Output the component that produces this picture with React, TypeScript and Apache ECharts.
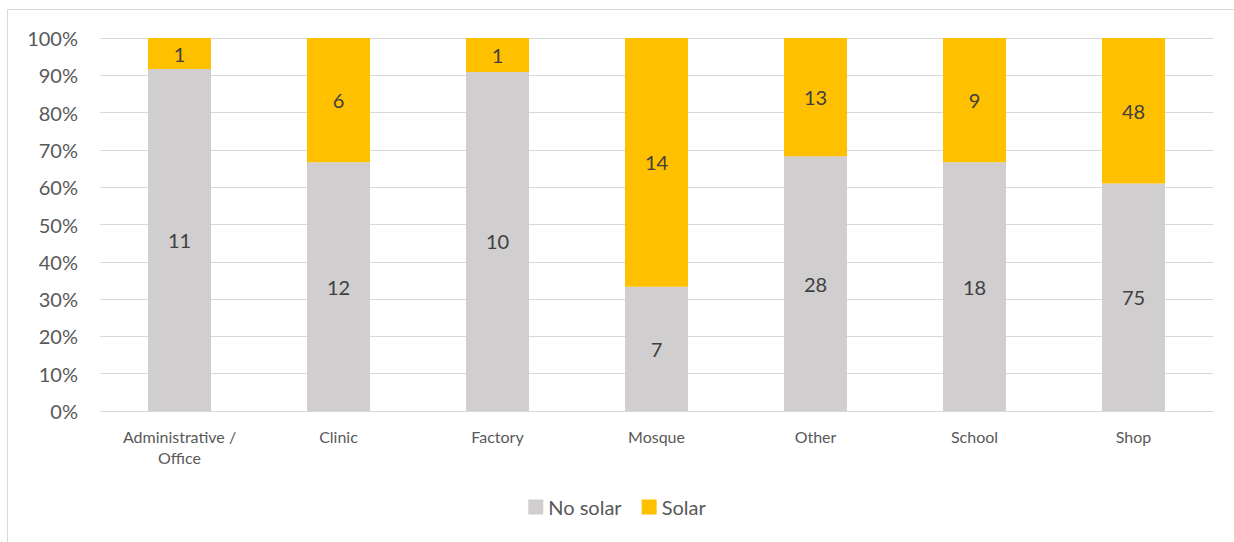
import React, { useEffect, useRef } from "react";
import * as echarts from "echarts";

const categories = ["Administrative /\nOffice", "Clinic", "Factory", "Mosque", "Other", "School", "Shop"];
const noSolar = [11, 12, 10, 7, 28, 18, 75];
const solar = [1, 6, 1, 14, 13, 9, 48];
const yTicks = [0, 10, 20, 30, 40, 50, 60, 70, 80, 90, 100];

const FONT = "Lato, 'Open Sans', sans-serif";

export default function App() {
  const ref = useRef<HTMLDivElement>(null);
  useEffect(() => {
    document.body.style.margin = "0";
    if (!ref.current) return;
    const chart = echarts.init(ref.current, null, { renderer: "svg" });
    const totals = noSolar.map((v, i) => v + solar[i]);
    const pct = (arr: number[]) => arr.map((v, i) => ({ value: (v / totals[i]) * 100, raw: v }));
    const labelCfg = {
      show: true,
      position: "inside",
      color: "#404040",
      fontSize: 20,
      fontFamily: FONT,
      formatter: (p: any) => String(p.data.raw),
    };
    chart.setOption({
      animation: false,
      textStyle: { fontFamily: FONT },
      graphic: [
        {
          type: "rect",
          shape: { x: 7.5, y: 9.5, width: 1240, height: 545 },
          style: { fill: "none", stroke: "#d9d9d9", lineWidth: 1 },
          silent: true,
        },
      ],
      grid: { left: 100, right: 21, top: 38, bottom: 131, containLabel: false },
      legend: {
        bottom: 20,
        left: "center",
        itemWidth: 15,
        itemHeight: 15,
        itemGap: 20,
        icon: "rect",
        textStyle: { color: "#595959", fontSize: 20, fontFamily: FONT },
        data: ["No solar", "Solar"],
      },
      xAxis: {
        type: "category",
        data: categories,
        axisLine: { lineStyle: { color: "#d9d9d9", width: 1 } },
        axisTick: { show: false },
        axisLabel: { color: "#595959", fontSize: 16, fontFamily: FONT, margin: 15, lineHeight: 21, interval: 0 },
      },
      yAxis: {
        type: "value",
        min: 0,
        max: 100,
        interval: 10,
        axisLine: { show: false },
        axisTick: { show: false },
        splitLine: { lineStyle: { color: "#d9d9d9", width: 1 } },
        axisLabel: {
          color: "#595959",
          fontSize: 20,
          fontFamily: FONT,
          margin: 22,
          formatter: (v: number) => (yTicks.includes(v) ? v + "%" : ""),
        },
      },
      series: [
        {
          name: "No solar",
          type: "bar",
          stack: "total",
          barWidth: 63,
          itemStyle: { color: "#D0CECE" },
          label: labelCfg,
          data: pct(noSolar),
        },
        {
          name: "Solar",
          type: "bar",
          stack: "total",
          barWidth: 63,
          itemStyle: { color: "#FFC000" },
          label: labelCfg,
          data: pct(solar),
        },
      ],
    });
    return () => chart.dispose();
  }, []);
  return <div ref={ref} style={{ width: 1234, height: 542 }} />;
}
